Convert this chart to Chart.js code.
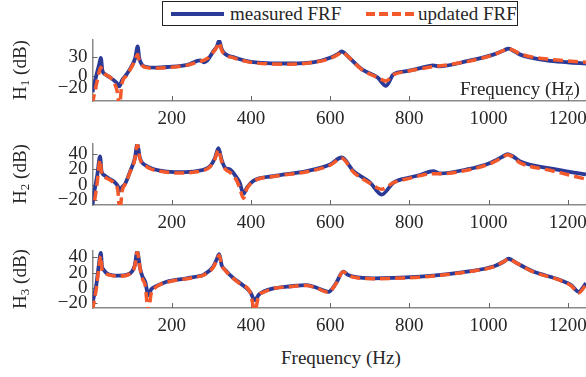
<!DOCTYPE html>
<html><head><meta charset="utf-8">
<script src="https://cdn.jsdelivr.net/npm/chart.js@4.4.1/dist/chart.umd.min.js"></script>
<style>
html,body{margin:0;padding:0;background:#fff;}
#wrap{position:relative;width:586px;height:377px;overflow:hidden;font-family:"Liberation Serif","Times New Roman",serif;color:#262626;}
canvas{position:absolute;left:0;}
.lbl{position:absolute;font-size:19px;white-space:nowrap;line-height:1;}
.ylab{position:absolute;left:20px;font-size:19px;white-space:nowrap;transform:translate(-50%,-50%) rotate(-90deg);line-height:1;}
.ylab sub{font-size:13px;vertical-align:-3px;}
#legend{position:absolute;left:162px;top:1px;width:356px;height:25px;border:1px solid #222;box-sizing:border-box;background:#fff;}
#legend .s{position:absolute;top:10px;height:4px;}
#legend .t{position:absolute;top:2px;font-size:19px;white-space:nowrap;line-height:1;}
</style></head>
<body><div id="wrap">
<canvas id="c1"></canvas><canvas id="c2"></canvas><canvas id="c3"></canvas>
<div id="legend">
  <div class="s" style="left:8px;width:53px;background:#2B3A96;"></div>
  <div class="t" style="left:67px;">measured FRF</div>
  <div class="s" style="left:203px;width:48px;height:3.5px;background:repeating-linear-gradient(90deg,#F4592B 0 9px,transparent 9px 13px);"></div>
  <div class="t" style="left:255px;">updated FRF</div>
</div>
<div class="ylab" style="top:70px;">H<sub>1</sub> (dB)</div>
<div class="ylab" style="top:174px;">H<sub>2</sub> (dB)</div>
<div class="ylab" style="top:279px;">H<sub>3</sub> (dB)</div>
<div class="lbl" style="left:460px;top:79px;">Frequency (Hz)</div>
<div class="lbl" style="left:281px;top:348px;">Frequency (Hz)</div>
</div>
<script>
// ---- data ----
const xTicks = [200, 400, 600, 800, 1000, 1200];

const freq1 = [0,5,12,17,21,25,32,45,55,62,68,74,86,100,108,114,118,125,137,160,190,240,272,281,290,305,314,320,326,335,356,390,440,500,560,600,620,629,645,680,720,741,760,793,830,860,875,945,1012,1040,1050,1060,1080,1147,1200,1246];
const measured1 = [-26,-12,6,18,28, 8,2,-3,-8,-12, -17,-8,2,16,28, 46,28,17,13.5,12.5, 13.5,17,23.8,21,24, 38,46,55,42,34, 29,22.7,19.5,19,21, 28,34,38,30,10, -3,-16,2,7,12, 16,14.5,22.7,33,40, 42.5,40,33,24,21, 19];
const updated1 = [-45,-28,-8,6,13, 7,2,-3,-12,-24, -48,-14,0,15,25, 33,24,16,12.5,11.5, 12.5,16.5,22.5,24,27, 37,45,52,40,33, 28,22,18.5,18,21, 27,33,37,30,9.5, -3,-8.5,1.5,6.5,11, 14,15,22,32.5,40, 42,40.5,34,26,23, 21];
const yTicks1 = [-20, 0, 30];

const freq2 = [0,5,12,19,23,30,44,57,64,69,75,82,95,107,113,120,137,179,221,263,297,309,318,326,335,347,364,372,381,390,406,457,541,600,629,659,701,730,760,800,827,860,877,945,1004,1035,1048,1060,1080,1155,1246];
const measured2 = [-26,-8,12,36.5,17, 12,7,2.5,-2,-8, -3,0.5,17,34,52, 34,24,17.4,16,17.4, 24,34,47,32,21.7, 19.5,9,2,-12,-4, 4.7,11,17.4,26,35, 17.4,2.5,-13,2.5,9, 12.3,17.4,14.4,19.5,28, 36,39.5,37,30,20.8, 13];
const updated2 = [-40,-22,3,32,15, 10,6,0,-8,-35, -8,0,16,33,52, 33,23,16.5,15,16.5, 23,33,45,30,20, 16,5,-5,-18,-5, 4,10.5,16.5,25,34, 16,1.5,-6,2.5,8, 11.5,14,14,18.5,27, 35,38.5,36,28,18.5, 7];
const yTicks2 = [-20, 0, 20, 40];

const freq3 = [0,5,10,15,21,24,28,36,50,69,95,107,113,120,126,133,141,148,158,187,238,270,280,305,314,320,326,335,356,373,398,410,420,431,457,500,541,566,596,610,617,633,645,659,709,827,860,945,1012,1040,1050,1071,1113,1180,1210,1227,1246];
const measured3 = [-20,-8,5,26,46, 28,24,19,16.5,16, 19,30,48,26,15, 8,-9.7,-2,1.3,8, 12.5,15.5,17,28,38, 44.5,30,23.6,12.5,5.9, -5.3,-16.4,-9,-5.3,-0.9, 2,3.6,0,-5.3,2, 8,21.3,17,14.7,12.5, 14.7,16,21.3,28,35, 38.3,32.5,21.3,10.3,3, -5.3,6];
const updated3 = [-30,-15,0,22,42, 24,21,18,16,15.5, 18.5,29,47.5,26,12, 3,-32,-8,0,7, 12,15,16.5,27,37, 43,30,23,12,5, -6,-30,-10,-6,-1, 1.5,3,-0.5,-6,1.5, 7.5,21,17,14,12, 14,15.5,21,27.5,35, 38,32.5,21,10,2, -7,4];
const yTicks3 = [-20, 0, 20, 40];

// ---- drawing ----
const BLUE = '#2B3A96', ORANGE = '#F4592B', AXIS = '#8a8a8a', TXT = '#262626';
const FONT = '"Liberation Serif","Times New Roman",serif';
const PAD_TOP = 14, XAX_H = 34, YAX_W = 92.5, XMAX = 1246;

const inTicks = {
  id: 'inTicks',
  beforeDatasetsDraw(chart) {
    const {ctx, chartArea: a, scales: {x, y}} = chart;
    ctx.save();
    ctx.strokeStyle = '#666'; ctx.lineWidth = 1;
    ctx.beginPath();
    x.ticks.forEach(t => { const px = Math.round(x.getPixelForValue(t.value)) + 0.5; ctx.moveTo(px, a.bottom); ctx.lineTo(px, a.bottom - 5); });
    y.ticks.forEach(t => { const py = Math.round(y.getPixelForValue(t.value)) + 0.5; ctx.moveTo(a.left, py); ctx.lineTo(a.left + 5, py); });
    ctx.stroke();
    ctx.restore();
  }
};

const panels = [
  {id: 'c1', top: 40, bottom: 101, ymin: -40, ymax: 56, freq: freq1, m: measured1, u: updated1, yt: yTicks1},
  {id: 'c2', top: 144, bottom: 205, ymin: -26.5, ymax: 52.5, freq: freq2, m: measured2, u: updated2, yt: yTicks2},
  {id: 'c3', top: 251, bottom: 308, ymin: -26.7, ymax: 48.5, freq: freq3, m: measured3, u: updated3, yt: yTicks3}
];

panels.forEach(p => {
  const cv = document.getElementById(p.id);
  const h = PAD_TOP + (p.bottom - p.top) + XAX_H;
  cv.width = 586; cv.height = h;
  cv.style.width = '586px'; cv.style.height = h + 'px';
  cv.style.top = (p.top - PAD_TOP) + 'px';
  new Chart(cv, {
    type: 'line',
    data: {
      datasets: [
        {label: 'updated FRF', data: p.freq.map((f, i) => ({x: f, y: p.u[i]})), borderColor: ORANGE, borderWidth: 3.5, borderDash: [10, 5], pointRadius: 0, order: 1, cubicInterpolationMode: 'monotone', fill: false},
        {label: 'measured FRF', data: p.freq.map((f, i) => ({x: f, y: p.m[i]})), borderColor: BLUE, borderWidth: 3.8, pointRadius: 0, order: 2, cubicInterpolationMode: 'monotone', fill: false}
      ]
    },
    options: {
      responsive: false, animation: false, devicePixelRatio: 1,
      layout: {padding: {top: PAD_TOP, left: 0, right: 0, bottom: 0}},
      plugins: {legend: {display: false}, tooltip: {enabled: false}},
      scales: {
        x: {
          type: 'linear', min: 0, max: XMAX,
          grid: {display: false, drawTicks: false},
          border: {display: true, color: AXIS, width: 1.5},
          afterBuildTicks: s => { s.ticks = xTicks.map(v => ({value: v})); },
          afterFit: s => { s.height = XAX_H; s.paddingLeft = 0; s.paddingRight = 0; },
          ticks: {autoSkip: false, maxRotation: 0, padding: 7, color: TXT, font: {family: FONT, size: 19}, callback: v => String(v)}
        },
        y: {
          type: 'linear', min: p.ymin, max: p.ymax,
          grid: {display: false, drawTicks: false},
          border: {display: true, color: AXIS, width: 1.5},
          afterBuildTicks: s => { s.ticks = p.yt.map(v => ({value: v})); },
          afterFit: s => { s.width = YAX_W; s.paddingTop = 0; s.paddingBottom = 0; },
          ticks: {autoSkip: false, padding: 5, color: TXT, font: {family: FONT, size: 19}, callback: v => v < 0 ? '\u2212' + Math.abs(v) : String(v)}
        }
      }
    },
    plugins: [inTicks]
  });
});
</script>
</body></html>
